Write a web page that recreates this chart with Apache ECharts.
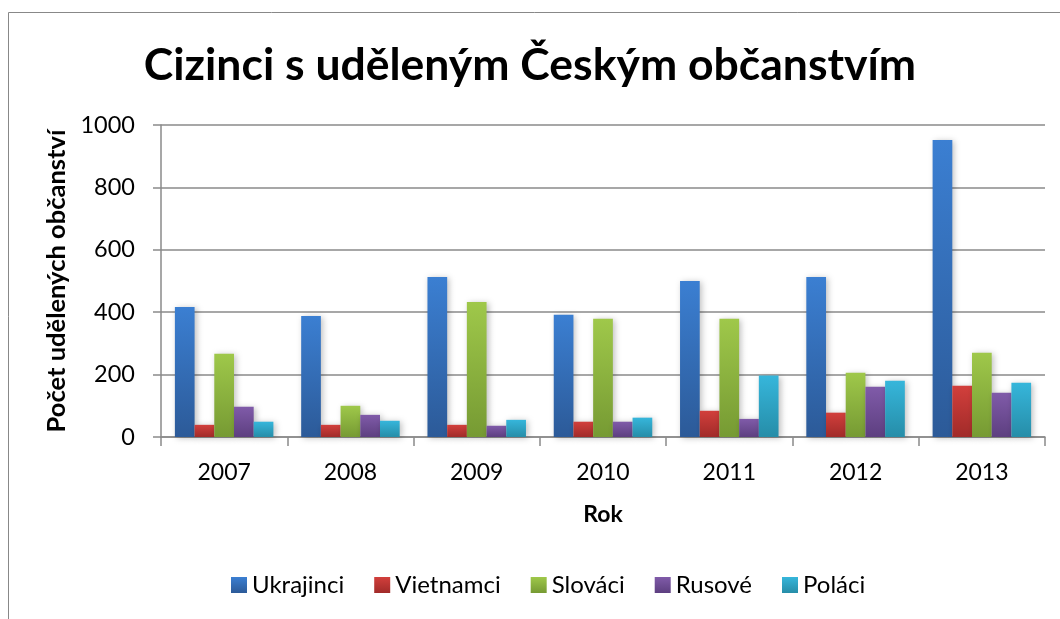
<!DOCTYPE html>
<html>
<head>
<meta charset="utf-8">
<script src="https://cdn.jsdelivr.net/npm/echarts@6/dist/echarts.min.js"></script>
<style>
  html, body { margin: 0; padding: 0; background: #fff; }
  #chart { width: 1060px; height: 619px; }
</style>
</head>
<body>
<div id="chart"></div>
<script>
  // data
  var years = ['2007', '2008', '2009', '2010', '2011', '2012', '2013'];
  var ukrajinci = [417, 388, 513, 392, 500, 513, 952];
  var vietnamci = [39, 39, 39, 49, 84, 78, 164];
  var slovaci = [267, 100, 433, 379, 379, 206, 270];
  var rusove = [97, 71, 36, 49, 58, 161, 142];
  var polaci = [49, 52, 55, 62, 197, 180, 174];
  var yTicks = [0, 200, 400, 600, 800, 1000];

  var font = 'Lato, "Open Sans", sans-serif';

  function grad(top, bottom) {
    return new echarts.graphic.LinearGradient(0, 0, 0, 1, [
      { offset: 0, color: top },
      { offset: 1, color: bottom }
    ]);
  }

  function bar(name, data, top, bottom) {
    return {
      name: name,
      type: 'bar',
      data: data,
      barGap: '0%',
      barCategoryGap: '22%',
      itemStyle: {
        color: grad(top, bottom),
        shadowColor: 'rgba(0,0,0,0.25)',
        shadowBlur: 6,
        shadowOffsetX: 2,
        shadowOffsetY: 1
      }
    };
  }

  var myChart = echarts.init(document.getElementById('chart'));
  myChart.setOption({
    animation: false,
    backgroundColor: '#fff',
    textStyle: { fontFamily: font },
    graphic: [{
      type: 'rect',
      shape: { x: 8.5, y: 12.5, width: 1200, height: 800 },
      style: { fill: 'none', stroke: '#888', lineWidth: 1 },
      silent: true
    }],
    title: {
      text: 'Cizinci s uděleným Českým občanstvím',
      left: 'center',
      top: 38,
      textStyle: { fontFamily: font, fontSize: 44.5, fontWeight: 'bold', color: '#000' }
    },
    legend: {
      bottom: 17,
      left: 226,
      itemWidth: 16,
      itemHeight: 16,
      itemGap: 30,
      icon: 'rect',
      textStyle: { fontFamily: font, fontSize: 24, color: '#000' },
      data: ['Ukrajinci', 'Vietnamci', 'Slováci', 'Rusové', 'Poláci']
    },
    grid: { left: 161, right: 15, top: 125, bottom: 182 },
    xAxis: {
      type: 'category',
      data: years,
      name: 'Rok',
      nameLocation: 'middle',
      nameGap: 66,
      nameTextStyle: { fontFamily: font, fontSize: 23, fontWeight: 'bold', color: '#000' },
      axisLine: { lineStyle: { color: '#8a8a8a', width: 1.5 } },
      axisTick: { show: true, length: 9, lineStyle: { color: '#8a8a8a', width: 1.5 } },
      axisLabel: { fontFamily: font, fontSize: 23, color: '#000', margin: 24 }
    },
    yAxis: {
      type: 'value',
      min: yTicks[0],
      max: yTicks[yTicks.length - 1],
      interval: 200,
      name: 'Počet udělených občanství',
      nameLocation: 'middle',
      nameGap: 88,
      nameTextStyle: { fontFamily: font, fontSize: 25.5, fontWeight: 'bold', color: '#000' },
      axisLine: { show: true, lineStyle: { color: '#8a8a8a', width: 1.5 } },
      axisTick: { show: true, length: 8, lineStyle: { color: '#8a8a8a', width: 1.5 } },
      axisLabel: {
        fontFamily: font, fontSize: 23.5, color: '#000', margin: 26,
        formatter: function (v) { return String(v); }
      },
      splitLine: { lineStyle: { color: '#8a8a8a', width: 1.5 } }
    },
    series: [
      bar('Ukrajinci', ukrajinci, '#3b7fd2', '#2c5a98'),
      bar('Vietnamci', vietnamci, '#d23f3c', '#a12b29'),
      bar('Slováci', slovaci, '#9fc84a', '#769a33'),
      bar('Rusové', rusove, '#805ba9', '#5d3f80'),
      bar('Poláci', polaci, '#36b6db', '#268da8')
    ]
  });
</script>
</body>
</html>
